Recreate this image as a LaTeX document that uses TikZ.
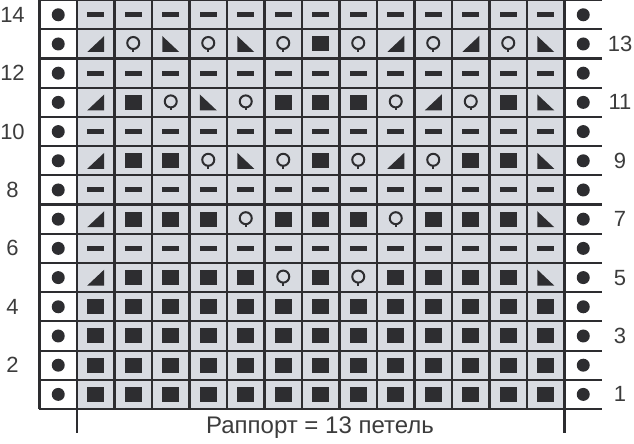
\documentclass[tikz,border=0pt]{standalone}
\usepackage{fontspec}
\setmainfont{Liberation Sans}
\usepackage{tikz}
\usepackage{xcolor}
\definecolor{gridline}{RGB}{45,45,48}
\definecolor{chartgrey}{RGB}{216,219,225}
\definecolor{labelgrey}{RGB}{60,60,60}

\tikzset{
  % chart symbols, one per stitch
  stk/.pic={\fill[gridline] (-8.5pt,-7.5pt) rectangle (8.5pt,7.5pt);},
  stp/.pic={\fill[gridline] (-8.5pt,-2.5pt) rectangle (8.5pt,2.5pt);},
  ste/.pic={\fill[gridline] (0,0) circle (6.5pt);},
  sto/.pic={\draw[gridline,line width=2pt] (0,1pt) circle (6pt);
            \draw[gridline,line width=1.8pt] (0,-5pt) -- (0,-8pt);},
  str/.pic={\fill[gridline] (-8.5pt,-8pt) -- (8.5pt,-8pt) -- (8.5pt,8pt) -- cycle;},
  stl/.pic={\fill[gridline] (-8.5pt,8pt) -- (-8.5pt,-8pt) -- (8.5pt,-8pt) -- cycle;},
  rowlabel/.style={text=labelgrey,font=\fontsize{22}{24}\selectfont,inner sep=0pt},
  caption/.style={text=labelgrey,font=\fontsize{24}{26}\selectfont,inner sep=0pt}
}

\begin{document}
\begin{tikzpicture}[x=37.5pt,y=29.2pt,line width=2.2pt]
        \useasboundingbox (-2.0533,-1.1986) rectangle (14.8533,14.0068);

        % Background of the repeat
        \fill[chartgrey] (0,0) rectangle (13,14);

        % Grid
        \foreach \r in {0,...,14}
            \draw[gridline] (-1,\r) -- (14,\r);
        \draw[gridline] (-1,0) -- (-1,14);
        \foreach \c in {1,...,12}
            \draw[gridline] (\c,0) -- (\c,14);
        \draw[gridline] (0,-0.82) -- (0,14);
        \draw[gridline] (13,-0.82) -- (13,14);

        % Edge stitches
        \foreach \r in {1,...,14} {
            \pic at (-0.5,\r-0.5) {ste};
            \pic at (13.5,\r-0.5) {ste};
        }

        % Rows 1 to 4: knit
        \foreach \r in {1,...,4}
            \foreach \c in {1,...,13}
                \pic at (\c-0.5,\r-0.5) {stk};

        % Even rows from 6: purl
        \foreach \r in {6,8,...,14}
            \foreach \c in {1,...,13}
                \pic at (\c-0.5,\r-0.5) {stp};

        % Odd rows from 5: lace pattern
        \foreach \r/\pattern in {
            5/{r,k,k,k,k,o,k,o,k,k,k,k,l},
            7/{r,k,k,k,o,k,k,k,o,k,k,k,l},
            9/{r,k,k,o,l,o,k,o,r,o,k,k,l},
            11/{r,k,o,l,o,k,k,k,o,r,o,k,l},
            13/{r,o,l,o,l,o,k,o,r,o,r,o,l}}
            \foreach \s [count=\c] in \pattern
                \pic at (\c-0.5,\r-0.5) {st\s};

        % Row numbers
        \foreach \r in {2,4,...,14}
            \node[rowlabel] (left\r) at (-1.72,\r-0.5) {\r};
        \foreach \r in {1,3,...,13}
            \node[rowlabel] (right\r) at (14.48,\r-0.5) {\r};

        % Label
        \node[caption] (rapport) at (6.48,-0.63) {Раппорт = 13 петель};
    \end{tikzpicture}
\end{document}
